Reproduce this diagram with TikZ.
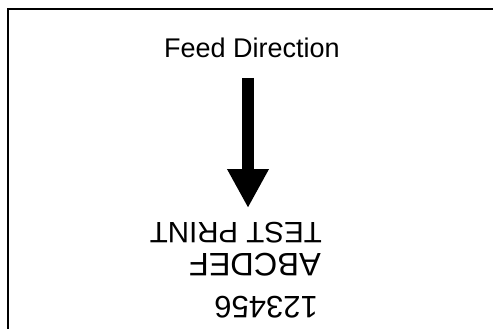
\documentclass[tikz,border=0pt]{standalone}
\usepackage{fontspec}
\setmainfont{Liberation Sans}
\usetikzlibrary{arrows.meta}

\tikzset{
  invertido/.style={rotate=180, anchor=base west, inner sep=0pt, font=\fontsize{#1}{#1}\selectfont},
  invertido/.default=30,
  seta/.style={line width=12pt, -{Triangle[width=39pt, length=39pt]}}
}

\begin{document}
\begin{tikzpicture}[x=1pt, y=1pt]
%\draw [lightgray](0,0) grid (493,-329);
\useasboundingbox (0,0) rectangle (493,-329);

\draw [line width=2pt](7.5,-9.5) rectangle (510,-329.5); % Moldura

\node [anchor=base, inner sep=0pt, font=\fontsize{27}{27}\selectfont] (titulo) at (252,-58){Feed Direction};

\coordinate (inicio) at (248,-78);
\coordinate (ponta) at (248,-208);
\draw [seta] (inicio) -- (ponta); % Seta

\node [invertido=31] (linha1) at (318,-296){123456};
\node [invertido=32.5] (linha2) at (321,-253){ABCDEF};
\node [invertido=29.5] (linha3) at (322,-222){TEST PRINT};

\end{tikzpicture}
\end{document}
